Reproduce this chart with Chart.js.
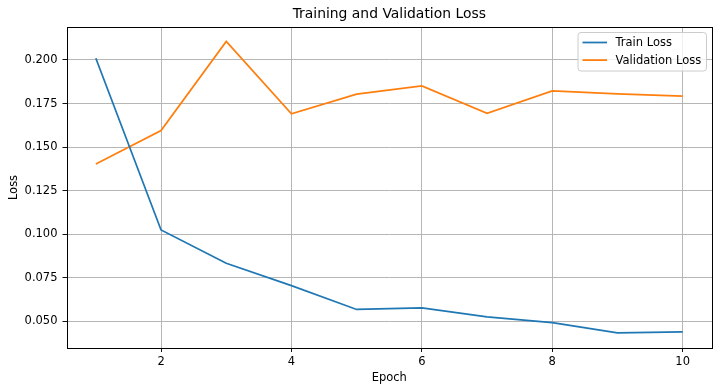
<!DOCTYPE html>
<html>
<head>
<meta charset="utf-8">
<title>Training and Validation Loss</title>
<script src="https://cdn.jsdelivr.net/npm/chart.js@4/dist/chart.umd.min.js"></script>
<style>
    html, body { margin: 0; padding: 0; background: #ffffff; }
    #wrap { width: 720px; height: 392px; position: relative; }
</style>
</head>
<body>
<div id="wrap"><canvas id="lossChart"></canvas></div>
<script>
const epochs = [1, 2, 3, 4, 5, 6, 7, 8, 9, 10];
const trainLoss = [0.2010, 0.1025, 0.0834, 0.0706, 0.0569, 0.0578, 0.0526, 0.0494, 0.0435, 0.0440];
const valLoss = [0.1403, 0.1595, 0.2106, 0.1691, 0.1804, 0.1851, 0.1694, 0.1823, 0.1805, 0.1792];
const xTicks = [2, 4, 6, 8, 10];
const yTicks = [0.050, 0.075, 0.100, 0.125, 0.150, 0.175, 0.200];
const chartTitle = 'Training and Validation Loss';

const FONT = 'DejaVu Sans';
const SMALL = 11.5;

// matplotlib-ish frame, title over the plot area, legend in the top right corner
const framePlugin = {
    id: 'frame',
    afterDraw(chart) {
        const ctx = chart.ctx;
        const a = chart.chartArea;
        ctx.save();
        ctx.strokeStyle = '#000000';
        ctx.lineWidth = 1;
        ctx.strokeRect(Math.round(a.left) + 0.5, Math.round(a.top) + 0.5,
            Math.round(a.right - a.left) - 1, Math.round(a.bottom - a.top));

        // title (centred on the axes, like matplotlib)
        ctx.font = '13.9px "' + FONT + '"';
        ctx.fillStyle = '#000000';
        ctx.textAlign = 'center';
        ctx.textBaseline = 'middle';
        ctx.fillText(chartTitle, (a.left + a.right) / 2, a.top - 12.3);

        // legend
        const boxW = 128.5, boxH = 38.5;
        const bx = a.right - 5.5 - boxW;
        const by = a.top + 5.5;
        ctx.beginPath();
        ctx.roundRect(bx, by, boxW, boxH, 3);
        ctx.fillStyle = 'rgba(255,255,255,0.8)';
        ctx.fill();
        ctx.strokeStyle = '#cccccc';
        ctx.lineWidth = 1;
        ctx.stroke();
        ctx.font = SMALL + 'px "' + FONT + '"';
        ctx.textBaseline = 'middle';
        ctx.textAlign = 'left';
        chart.data.datasets.forEach((ds, i) => {
            const ry = by + 10 + i * 17.6;
            ctx.beginPath();
            ctx.moveTo(bx + 4.5, ry);
            ctx.lineTo(bx + 29, ry);
            ctx.strokeStyle = ds.borderColor;
            ctx.lineWidth = 1.75;
            ctx.stroke();
            ctx.fillStyle = '#000000';
            ctx.fillText(ds.label, bx + 37.5, ry + 0.5);
        });
        ctx.restore();
    }
};

const ctx = document.getElementById('lossChart').getContext('2d');
const chart = new Chart(ctx, {
    type: 'line',
    data: {
        datasets: [{
            label: 'Train Loss',
            data: epochs.map((e, i) => ({ x: e, y: trainLoss[i] })),
            borderColor: '#1f77b4',
            backgroundColor: '#1f77b4',
            borderWidth: 1.75,
            pointRadius: 0,
            tension: 0
        }, {
            label: 'Validation Loss',
            data: epochs.map((e, i) => ({ x: e, y: valLoss[i] })),
            borderColor: '#ff7f0e',
            backgroundColor: '#ff7f0e',
            borderWidth: 1.75,
            pointRadius: 0,
            tension: 0
        }]
    },
    options: {
        responsive: true,
        maintainAspectRatio: false,
        animation: false,
        layout: {
            padding: { left: 0, right: 8, top: 27, bottom: 0 }
        },
        scales: {
            x: {
                type: 'linear',
                min: 0.55,
                max: 10.45,
                afterBuildTicks: scale => {
                    scale.ticks = xTicks.map(v => ({ value: v }));
                },
                afterFit: scale => { scale.height = 44; },
                ticks: {
                    font: { family: FONT, size: SMALL },
                    color: '#000000',
                    padding: 2.8,
                    maxRotation: 0,
                    callback: v => String(v)
                },
                grid: {
                    color: '#b0b0b0',
                    lineWidth: 0.93,
                    tickLength: 4,
                    tickColor: '#000000',
                    tickWidth: 0.93
                },
                border: { display: false },
                title: {
                    display: true,
                    text: 'Epoch',
                    font: { family: FONT, size: SMALL },
                    color: '#000000',
                    padding: { top: 0, bottom: 7.4 }
                }
            },
            y: {
                type: 'linear',
                min: 0.0348,
                max: 0.2189,
                afterBuildTicks: scale => {
                    scale.ticks = yTicks.map(v => ({ value: v }));
                },
                afterFit: scale => { scale.width = 66.5; },
                ticks: {
                    font: { family: FONT, size: SMALL },
                    color: '#000000',
                    padding: 5,
                    callback: v => v.toFixed(3)
                },
                grid: {
                    color: '#b0b0b0',
                    lineWidth: 0.93,
                    tickLength: 4,
                    tickColor: '#000000',
                    tickWidth: 0.93
                },
                border: { display: false },
                title: {
                    display: true,
                    text: 'Loss',
                    font: { family: FONT, size: SMALL },
                    color: '#000000',
                    padding: { top: 7.1, bottom: 0 }
                }
            }
        },
        plugins: {
            legend: { display: false },
            tooltip: { enabled: false },
            title: { display: false }
        }
    },
    plugins: [framePlugin]
});
</script>
</body>
</html>
